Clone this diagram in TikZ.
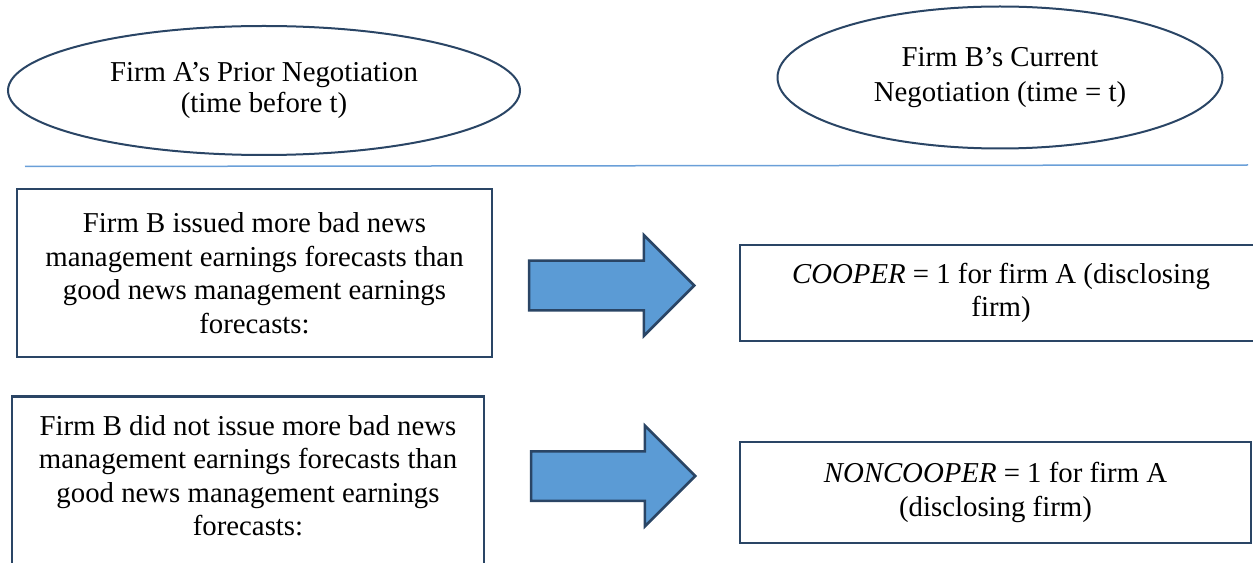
\documentclass[tikz,border=0pt]{standalone}
\usepackage{fontspec}
\setmainfont{Liberation Serif}
\usetikzlibrary{shapes.geometric,shapes.arrows}
\definecolor{edgeblue}{HTML}{2A4565}
\definecolor{fillblue}{HTML}{5B9BD5}
\definecolor{ruleblue}{HTML}{6A9FD8}
\begin{document}
\begin{tikzpicture}[x=1bp,y=-1bp,
  txt/.style={font=\fontsize{28.8bp}{33.5bp}\selectfont, align=center},
  oval/.style={ellipse, draw=edgeblue, line width=2bp, inner sep=0pt, align=center, font=\fontsize{28.8bp}{31.5bp}\selectfont},
  boxnode/.style={rectangle, draw=edgeblue, line width=2.5bp, inner sep=0pt, txt},
  blockarrow/.style={single arrow, draw=edgeblue, fill=fillblue, line width=2.5bp, minimum height=165bp, minimum width=98bp, text height=23.5bp, text depth=23.5bp, single arrow head extend=25.5bp, single arrow tip angle=90, inner sep=0pt},
  seprule/.style={draw=ruleblue, line width=1.5bp}]
\useasboundingbox (0,0) rectangle (1253,563);
\clip (0,0) rectangle (1253,563);

\node[oval, minimum width=512bp, minimum height=129bp] (prior) at (264,90.5) {Firm A’s Prior Negotiation\\(time before t)};
\node[oval, minimum width=445bp, minimum height=142bp, font=\fontsize{28.8bp}{34.5bp}\selectfont] (current) at (1000,77.5) {Firm B’s Current\\Negotiation (time = t)};

\coordinate (sepL) at (25,166.5);
\coordinate (sepR) at (1248,165);
\draw[seprule] (sepL) -- (sepR);

\node[boxnode, minimum width=475bp, minimum height=168bp] (condA) at (254.5,273) {Firm B issued more bad news\\management earnings forecasts than\\good news management earnings\\forecasts:};
\node[boxnode, minimum width=472bp, anchor=north, inner ysep=19bp, text depth=200bp] (condB) at (248,395) {Firm B did not issue more bad news\\management earnings forecasts than\\good news management earnings\\forecasts:};

\node[boxnode, minimum width=522bp, minimum height=96bp] (coop) at (1001,293) {\textit{COOPER} = 1 for firm A (disclosing\\firm)};
\node[boxnode, minimum width=511bp, minimum height=101bp] (noncoop) at (995.5,492.5) {\textit{NONCOOPER} = 1 for firm A\\(disclosing firm)};

\node[blockarrow, anchor=tip] (arrA) at (696,285.5) {};
\node[blockarrow, anchor=tip, minimum height=164bp] (arrB) at (697,476) {};
\end{tikzpicture}
\end{document}
